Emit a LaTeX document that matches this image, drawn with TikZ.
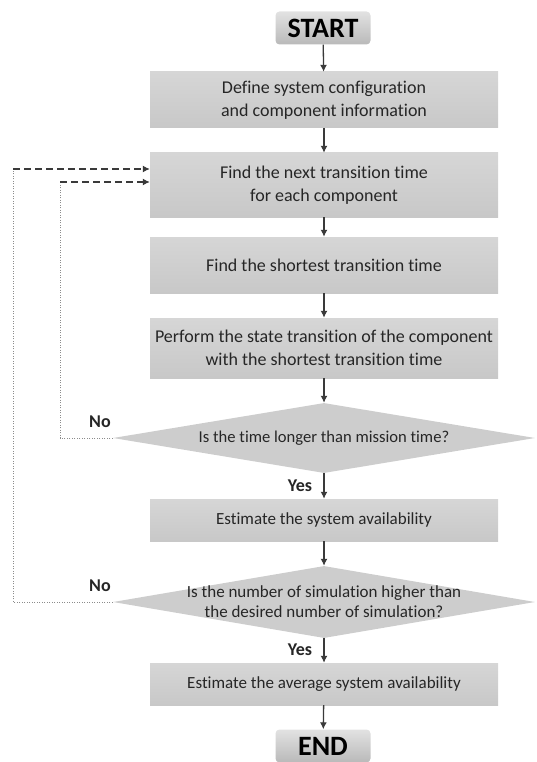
\documentclass[tikz,border=0pt]{standalone}
\usepackage{fontspec}
\setmainfont{Carlito}[Ligatures={NoCommon,NoRare,NoContextual}]
\usetikzlibrary{shapes.geometric,arrows.meta}
\definecolor{inkc}{HTML}{262626}
\definecolor{arrc}{HTML}{3A3A3A}
\definecolor{boxtop}{HTML}{D6D6D6}
\definecolor{boxbot}{HTML}{C8C8C8}
\definecolor{termtop}{HTML}{E2E2E2}
\definecolor{termbot}{HTML}{B9B9B9}
\tikzset{
  stepbox/.style={rectangle, top color=boxtop, bottom color=boxbot, draw=none,
    minimum width=348pt, inner sep=0pt, text=inkc, align=center,
    font=\fontsize{18}{23}\selectfont},
  smallstep/.style={stepbox, font=\fontsize{17}{22}\selectfont},
  termbox/.style={rectangle, rounded corners=4pt, top color=termtop, bottom color=termbot,
    draw=none, minimum width=95pt, minimum height=33pt, inner sep=0pt, text=black,
    font=\fontsize{28}{29}\selectfont\bfseries},
  decbox/.style={diamond, fill=boxbot!90!white, draw=none, inner sep=0pt,
    minimum width=422pt},
  dectext/.style={text=inkc, align=center, font=\fontsize{17}{20}\selectfont},
  arr/.style={draw=arrc, line width=1.3pt, -{Latex[length=7pt,width=7pt]}},
  dotline/.style={draw=gray!90, line width=1pt, dash pattern=on 1pt off 1.5pt},
  dashline/.style={draw=arrc, line width=1.2pt, dash pattern=on 7pt off 4pt,
    -{Latex[length=7pt,width=7pt]}},
  lbl/.style={text=inkc, font=\fontsize{18}{20}\selectfont\bfseries}
}
\begin{document}
\begin{tikzpicture}[x=1pt,y=-1pt]
  \useasboundingbox (0,0) rectangle (536,762);

  \node[termbox] (start) at (323,28) {START};
  \node[stepbox, minimum height=56pt] (b1) at (324,100)
    {Define system configuration\\and component information};
  \node[stepbox, minimum height=64pt] (b2) at (324,185)
    {Find the next transition time\\for each component};
  \node[stepbox, minimum height=56pt] (b3) at (324,265)
    {Find the shortest transition time};
  \node[stepbox, minimum height=60pt] (b4) at (324,348)
    {Perform the state transition of the component\\with the shortest transition time};
  \node[decbox, minimum height=70pt] (d1) at (324,438) {};
  \node[dectext, font=\fontsize{16.6}{20}\selectfont] (t1) at (d1.center)
    {Is the time longer than mission time?};
  \node[smallstep, minimum height=42pt] (b5) at (324,520)
    {Estimate the system availability};
  \node[decbox, minimum height=72pt] (d2) at (324,602) {};
  \node[dectext] (t2) at (d2.center)
    {Is the number of simulation higher than\\the desired number of simulation?};
  \node[smallstep, minimum height=42pt] (b6) at (324,684)
    {Estimate the average system availability};
  \node[termbox] (end) at (323,746) {END};

  % main flow
  \draw[arr] (start) -- (b1);
  \draw[arr] (b1) -- (b2);
  \draw[arr] (b2) -- (b3);
  \draw[arr] (b3) -- (b4);
  \draw[arr] (b4) -- (d1);
  \draw[arr] (d1) -- (b5);
  \draw[arr] (b5) -- (d2);
  \draw[arr] (d2) -- (b6);
  \draw[arr] (b6) -- (end);

  % branch labels
  \node[lbl] (no1) at (100,422) {No};
  \node[lbl] (yes1) at (300,486) {Yes};
  \node[lbl] (no2) at (100,586) {No};
  \node[lbl] (yes2) at (300,650) {Yes};

  % feedback loops
  \coordinate (inner) at (60,182);
  \coordinate (outer) at (13,169);
  \draw[dotline] (d1.west) -- (d1.west -| inner) -- (inner);
  \draw[dashline] (inner) -- (inner -| b2.west);
  \draw[dotline] (d2.west) -- (d2.west -| outer) -- (outer);
  \draw[dashline] (outer) -- (outer -| b2.west);
\end{tikzpicture}
\end{document}
